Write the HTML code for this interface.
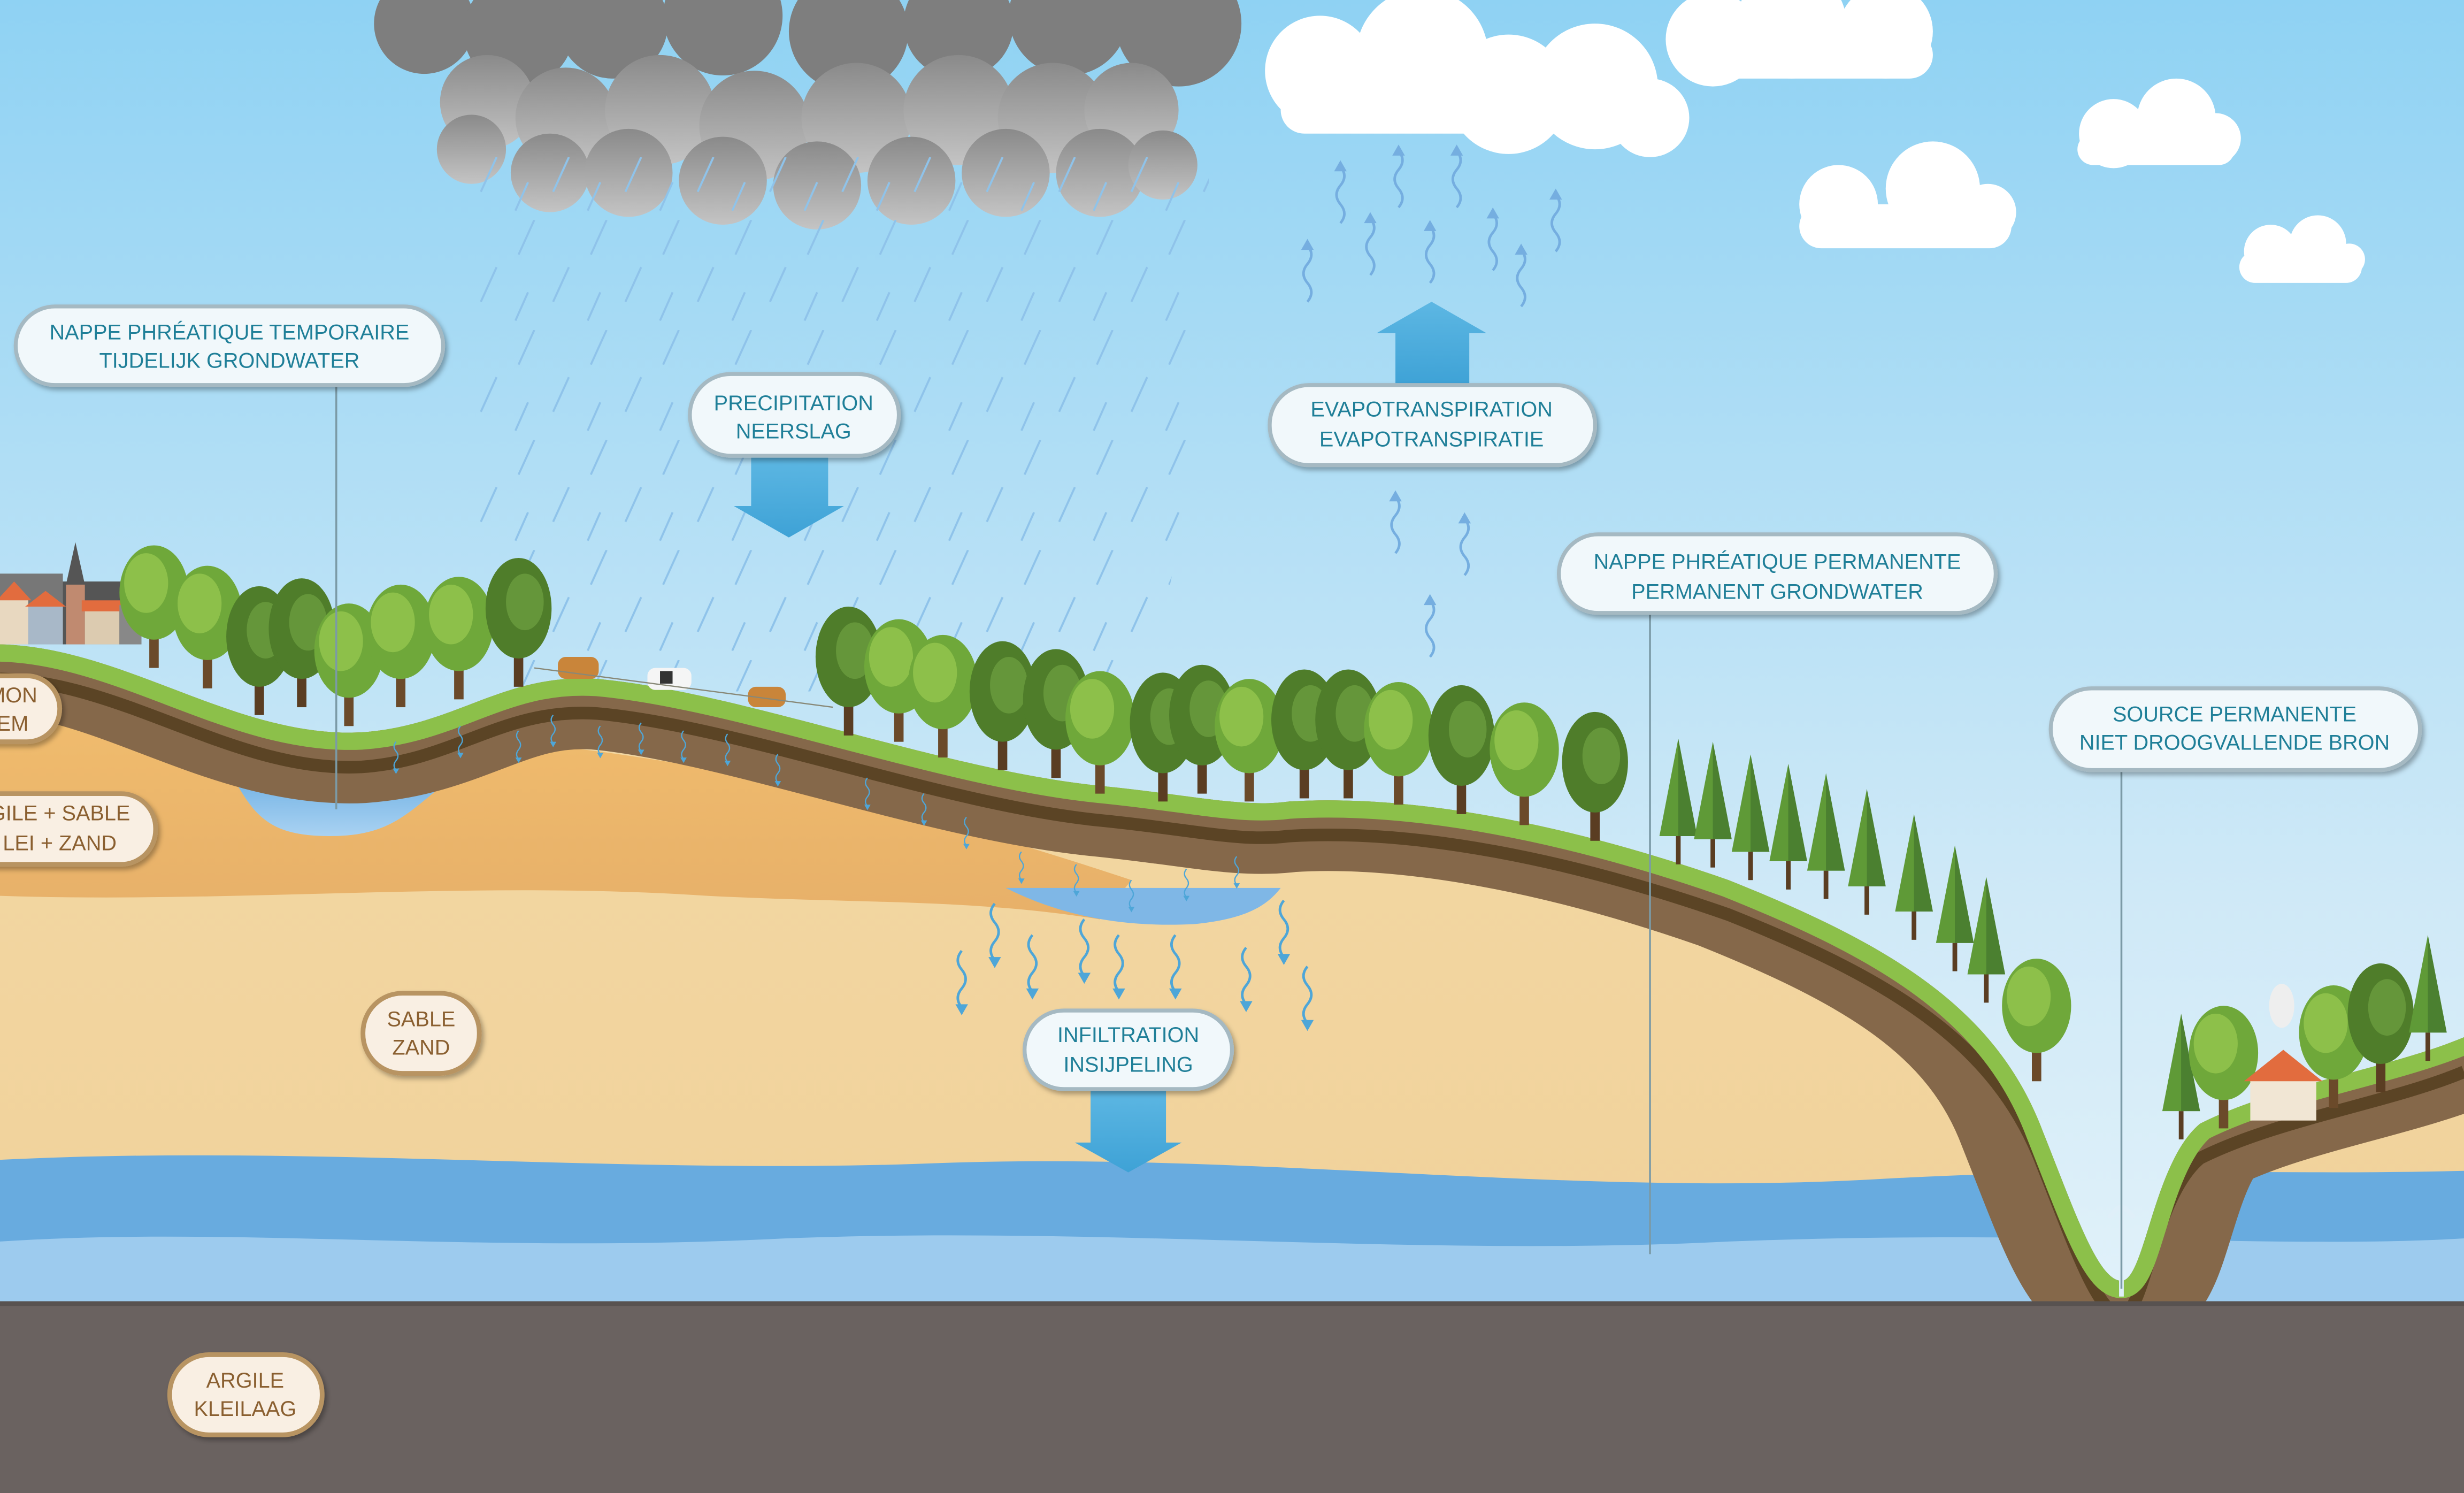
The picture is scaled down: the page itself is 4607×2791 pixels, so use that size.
<!DOCTYPE html>
<html><head><meta charset="utf-8"><style>
html,body{margin:0;padding:0;background:#fff}
svg{display:block}
text{font-family:"Liberation Sans",Arial,sans-serif;font-size:13.5px;text-anchor:middle}
.t{fill:#1f7f98}
.b{fill:#8a5f30}
</style></head><body>
<svg width="4607" height="2791" viewBox="0 0 1568 950" preserveAspectRatio="none" xmlns="http://www.w3.org/2000/svg" xmlns:xlink="http://www.w3.org/1999/xlink">
<defs>
<linearGradient id="sky" x1="0" y1="0" x2="0" y2="1"><stop offset="0" stop-color="#8fd2f3"/><stop offset="0.6" stop-color="#cfe9f7"/><stop offset="1" stop-color="#e9f5fb"/></linearGradient>
<linearGradient id="sand" x1="0" y1="0" x2="0" y2="1"><stop offset="0" stop-color="#f3d9a4"/><stop offset="1" stop-color="#f0cf98"/></linearGradient>
<linearGradient id="orng" x1="0" y1="0" x2="0" y2="1"><stop offset="0" stop-color="#f1bd6e"/><stop offset="1" stop-color="#e7b069"/></linearGradient>
<linearGradient id="pond" x1="0" y1="0" x2="0" y2="1"><stop offset="0" stop-color="#5ea6df"/><stop offset="1" stop-color="#a9d2f2"/></linearGradient>
<linearGradient id="storm" x1="0" y1="0" x2="0" y2="1"><stop offset="0" stop-color="#8a8a8a"/><stop offset="1" stop-color="#c4c4c4"/></linearGradient>
<linearGradient id="arr" x1="0" y1="0" x2="0" y2="1"><stop offset="0" stop-color="#5db7e3"/><stop offset="1" stop-color="#3ea2d6"/></linearGradient>
<clipPath id="ground"><path d="M0,410 C80,412 150,470 230,466 C290,462 320,428 380,432 C470,440 600,490 700,500 C760,506 790,514 820,510 C900,505 1000,525 1100,560 C1200,600 1270,640 1300,720 C1320,770 1335,815 1350,815 C1365,815 1370,740 1400,715 C1450,690 1520,680 1568,660 L1568,950 L0,950 Z"/></clipPath>
<clipPath id="rainclip"><path d="M300,100 L770,100 L760,300 L730,440 L300,440 Z"/></clipPath>
<pattern id="rain" width="46" height="70" patternUnits="userSpaceOnUse">
<line x1="18" y1="0" x2="8" y2="22" stroke="#8fc3ea" stroke-width="1.3"/>
<line x1="40" y1="30" x2="30" y2="52" stroke="#8fc3ea" stroke-width="1.3"/>
<line x1="14" y1="46" x2="6" y2="64" stroke="#8fc3ea" stroke-width="1.3"/>
</pattern>
<g id="squ"><path d="M0,4 q5,6 0,12 q-5,6 0,12 q5,6 0,12" fill="none" stroke="#75aee0" stroke-width="1.6"/><path d="M-4,7 L0,0 L4,7 Z" fill="#75aee0"/></g>
<g id="sqd"><path d="M0,0 q-5,6 0,12 q5,6 0,12 q-5,6 0,12" fill="none" stroke="#4ea6d8" stroke-width="1.6"/><path d="M-4,34 L0,41 L4,34 Z" fill="#4ea6d8"/></g>
<g id="tree"><rect x="-3" y="-34" width="6" height="34" fill="#6b4a2a"/><ellipse cx="0" cy="-48" rx="22" ry="30" fill="#6fa83a"/><ellipse cx="-5" cy="-54" rx="14" ry="19" fill="#8dc04a"/></g>
<g id="tree2"><rect x="-3" y="-34" width="6" height="34" fill="#5a3d22"/><ellipse cx="0" cy="-50" rx="21" ry="32" fill="#4f7d2a"/><ellipse cx="4" cy="-54" rx="12" ry="18" fill="#65963a"/></g>
<g id="pine"><rect x="-1.5" y="-18" width="3" height="18" fill="#5a3d22"/><path d="M0,-80 L-12,-18 L12,-18 Z" fill="#5f9a37"/><path d="M0,-80 L0,-18 L12,-18 Z" fill="#4b8030"/></g>
<filter id="sh" x="-10%" y="-20%" width="130%" height="150%"><feDropShadow dx="1.5" dy="2" stdDeviation="1.5" flood-color="#000" flood-opacity="0.3"/></filter>
</defs>

<rect width="1568" height="950" fill="url(#sky)"/>

<!-- storm cloud -->
<g>
<g fill="#7e7e7e">
<circle cx="270" cy="15" r="32"/><circle cx="330" cy="20" r="35"/><circle cx="390" cy="15" r="35"/><circle cx="460" cy="10" r="38"/><circle cx="540" cy="20" r="38"/><circle cx="610" cy="15" r="35"/><circle cx="680" cy="10" r="38"/><circle cx="750" cy="15" r="40"/>
</g>
<g fill="url(#storm)">
<circle cx="310" cy="65" r="30"/><circle cx="360" cy="75" r="32"/><circle cx="420" cy="70" r="35"/><circle cx="480" cy="80" r="35"/><circle cx="545" cy="75" r="35"/><circle cx="610" cy="70" r="35"/><circle cx="670" cy="75" r="35"/><circle cx="720" cy="70" r="30"/>
<circle cx="300" cy="95" r="22"/><circle cx="350" cy="110" r="25"/><circle cx="400" cy="110" r="28"/><circle cx="460" cy="115" r="28"/><circle cx="520" cy="118" r="28"/><circle cx="580" cy="115" r="28"/><circle cx="640" cy="110" r="28"/><circle cx="700" cy="110" r="28"/><circle cx="740" cy="105" r="22"/>
</g>
</g>
<!-- white clouds -->
<g fill="#fff">
<circle cx="840" cy="45" r="35"/><circle cx="905" cy="35" r="42"/><circle cx="960" cy="60" r="38"/><circle cx="1015" cy="55" r="40"/><circle cx="1050" cy="75" r="25"/><rect x="815" y="55" width="250" height="30" rx="15"/>
<circle cx="1090" cy="25" r="30"/><circle cx="1140" cy="15" r="35"/><circle cx="1200" cy="20" r="30"/><rect x="1065" y="20" width="165" height="30" rx="15"/>
<circle cx="1345" cy="85" r="22"/><circle cx="1385" cy="75" r="25"/><circle cx="1410" cy="88" r="16"/><rect x="1322" y="85" width="100" height="20" rx="10"/>
<circle cx="1170" cy="130" r="25"/><circle cx="1230" cy="120" r="30"/><circle cx="1265" cy="135" r="18"/><rect x="1145" y="130" width="135" height="28" rx="14"/>
<circle cx="1445" cy="160" r="17"/><circle cx="1475" cy="155" r="18"/><circle cx="1495" cy="165" r="10"/><rect x="1425" y="160" width="78" height="20" rx="10"/>
</g>

<!-- rain -->
<rect x="290" y="100" width="480" height="340" fill="url(#rain)" clip-path="url(#rainclip)"/>

<!-- ground layers -->
<g clip-path="url(#ground)">
<rect x="0" y="380" width="1568" height="570" fill="url(#sand)"/>
<path d="M0,440 L0,570 C150,575 300,560 450,570 C550,575 620,572 700,585 L720,560 C600,520 450,480 300,470 Z" fill="url(#orng)"/>
<path d="M140,480 C160,515 165,532 210,532 C255,532 262,512 300,486 Z" fill="url(#pond)"/>
<path d="M640,565 C680,585 720,590 760,588 C790,585 805,578 815,565 Z" fill="#7fb7e6"/>
<path d="M0,738 C200,728 400,748 600,740 C800,733 1000,762 1200,750 C1350,742 1450,748 1568,745 L1568,830 L0,830 Z" fill="#68abdf"/>
<path d="M0,790 C150,780 300,798 500,788 C700,780 900,800 1100,790 C1300,782 1450,795 1568,788 L1568,830 L0,830 Z" fill="#9dcbee"/>
<path d="M0,410 C80,412 150,470 230,466 C290,462 320,428 380,432 C470,440 600,490 700,500 C760,506 790,514 820,510 C900,505 1000,525 1100,560 C1200,600 1270,640 1300,720 C1320,770 1335,815 1350,815 C1365,815 1370,740 1400,715 C1450,690 1520,680 1568,660" fill="none" stroke="#85684a" stroke-width="110" transform="translate(0,-10)"/>
<path d="M0,410 C80,412 150,470 230,466 C290,462 320,428 380,432 C470,440 600,490 700,500 C760,506 790,514 820,510 C900,505 1000,525 1100,560 C1200,600 1270,640 1300,720 C1320,770 1335,815 1350,815 C1365,815 1370,740 1400,715 C1450,690 1520,680 1568,660" fill="none" stroke="#5b4425" stroke-width="8" transform="translate(0,22)"/>
<path d="M0,410 C80,412 150,470 230,466 C290,462 320,428 380,432 C470,440 600,490 700,500 C760,506 790,514 820,510 C900,505 1000,525 1100,560 C1200,600 1270,640 1300,720 C1320,770 1335,815 1350,815 C1365,815 1370,740 1400,715 C1450,690 1520,680 1568,660" fill="none" stroke="#8cc04a" stroke-width="22"/>
<rect x="0" y="828" width="1568" height="122" fill="#6a6260"/>
<rect x="0" y="828" width="1568" height="4" fill="#585250"/>
</g>
<rect x="0" y="828" width="1568" height="122" fill="#6a6260"/>
<rect x="0" y="828" width="1568" height="3" fill="#585250"/>

<!-- village -->
<g>
<rect x="40" y="370" width="50" height="40" fill="#555"/>
<rect x="0" y="365" width="40" height="45" fill="#777"/>
<path d="M42,372 L48,345 L54,372 Z" fill="#555"/><rect x="42" y="372" width="12" height="38" fill="#c08a70"/>
<rect x="0" y="380" width="18" height="30" fill="#e8d8c0"/><path d="M-2,382 L9,370 L20,382 Z" fill="#e26c3e"/>
<rect x="18" y="385" width="22" height="25" fill="#a8b8c8"/><path d="M16,386 L29,376 L42,386 Z" fill="#e26c3e"/>
<rect x="54" y="388" width="22" height="22" fill="#dccbb0"/><rect x="52" y="382" width="26" height="7" fill="#e26c3e"/>
<rect x="76" y="385" width="14" height="25" fill="#888"/>
</g>

<!-- trees -->
<g>
<use xlink:href="#tree" x="98" y="425"/><use xlink:href="#tree" x="132" y="438"/><use xlink:href="#tree2" x="165" y="455"/><use xlink:href="#tree2" x="192" y="450"/><use xlink:href="#tree" x="222" y="462"/><use xlink:href="#tree" x="255" y="450"/><use xlink:href="#tree" x="292" y="445"/><use xlink:href="#tree2" x="330" y="437"/>
<use xlink:href="#tree2" x="540" y="468"/><use xlink:href="#tree" x="572" y="472"/><use xlink:href="#tree" x="600" y="482"/><use xlink:href="#tree2" x="638" y="490"/><use xlink:href="#tree2" x="672" y="495"/><use xlink:href="#tree" x="700" y="505"/><use xlink:href="#tree2" x="740" y="510"/><use xlink:href="#tree2" x="765" y="505"/><use xlink:href="#tree" x="795" y="510"/><use xlink:href="#tree2" x="830" y="508"/><use xlink:href="#tree2" x="858" y="508"/><use xlink:href="#tree" x="890" y="512"/><use xlink:href="#tree2" x="930" y="518"/><use xlink:href="#tree" x="970" y="525"/><use xlink:href="#tree2" x="1015" y="535"/>
<use xlink:href="#pine" x="1068" y="550"/><use xlink:href="#pine" x="1090" y="552"/><use xlink:href="#pine" x="1114" y="560"/><use xlink:href="#pine" x="1138" y="566"/><use xlink:href="#pine" x="1162" y="572"/><use xlink:href="#pine" x="1188" y="582"/><use xlink:href="#pine" x="1218" y="598"/><use xlink:href="#pine" x="1244" y="618"/><use xlink:href="#pine" x="1264" y="638"/>
<use xlink:href="#tree" x="1296" y="688"/>
<use xlink:href="#pine" x="1388" y="725"/><use xlink:href="#tree" x="1415" y="718"/><use xlink:href="#tree" x="1485" y="705"/><use xlink:href="#tree2" x="1515" y="695"/><use xlink:href="#pine" x="1545" y="675"/>
</g>
<!-- house right -->
<rect x="1432" y="685" width="42" height="28" fill="#f1e6d4"/><path d="M1428,688 L1453,668 L1478,688 Z" fill="#e26c3e"/>
<ellipse cx="1452" cy="640" rx="8" ry="14" fill="#eee"/>
<!-- cows -->
<rect x="355" y="418" width="26" height="14" rx="5" fill="#c9853a"/><rect x="412" y="425" width="28" height="14" rx="5" fill="#f5f5f5"/><rect x="420" y="427" width="8" height="8" fill="#333"/><rect x="476" y="437" width="24" height="13" rx="5" fill="#c9853a"/>
<line x1="340" y1="425" x2="530" y2="450" stroke="#887" stroke-width="0.8"/>

<!-- water spring -->
<path d="M1350,825 L1350,770 M1342,775 q8,-10 8,-5 M1358,775 q-8,-10 -8,-5" stroke="#dfeff9" stroke-width="3" fill="none"/>

<!-- leader lines -->
<g stroke="#7b9aa6" stroke-width="1.2">
<line x1="214" y1="245" x2="214" y2="515"/><line x1="1050" y1="390" x2="1050" y2="798"/><line x1="1350" y1="490" x2="1350" y2="820"/>
</g>

<!-- big arrows -->
<path d="M478,290 L527,290 L527,322 L537,322 L502,342 L467,322 L478,322 Z" fill="url(#arr)"/>
<path d="M888,245 L935,245 L935,212 L946,212 L911,192 L876,212 L888,212 Z" fill="url(#arr)"/>
<path d="M694,693 L742,693 L742,727 L752,727 L718,746 L684,727 L694,727 Z" fill="url(#arr)"/>

<!-- squiggles up -->
<use xlink:href="#squ" x="832" y="152"/><use xlink:href="#squ" x="853" y="102"/><use xlink:href="#squ" x="872" y="135"/><use xlink:href="#squ" x="890" y="92"/><use xlink:href="#squ" x="910" y="140"/><use xlink:href="#squ" x="927" y="92"/><use xlink:href="#squ" x="950" y="132"/><use xlink:href="#squ" x="968" y="155"/><use xlink:href="#squ" x="990" y="120"/>
<use xlink:href="#squ" x="888" y="312"/><use xlink:href="#squ" x="932" y="326"/><use xlink:href="#squ" x="910" y="378"/>
<!-- squiggles down -->
<use xlink:href="#sqd" x="612" y="605"/><use xlink:href="#sqd" x="633" y="575"/><use xlink:href="#sqd" x="657" y="595"/><use xlink:href="#sqd" x="690" y="585"/><use xlink:href="#sqd" x="712" y="595"/><use xlink:href="#sqd" x="748" y="595"/><use xlink:href="#sqd" x="793" y="603"/><use xlink:href="#sqd" x="817" y="573"/><use xlink:href="#sqd" x="832" y="615"/>
<use xlink:href="#sqd" transform="translate(252,472) scale(0.5)"/><use xlink:href="#sqd" transform="translate(293,462) scale(0.5)"/><use xlink:href="#sqd" transform="translate(330,465) scale(0.5)"/><use xlink:href="#sqd" transform="translate(352,455) scale(0.5)"/><use xlink:href="#sqd" transform="translate(382,462) scale(0.5)"/><use xlink:href="#sqd" transform="translate(408,460) scale(0.5)"/><use xlink:href="#sqd" transform="translate(435,465) scale(0.5)"/><use xlink:href="#sqd" transform="translate(463,467) scale(0.5)"/><use xlink:href="#sqd" transform="translate(495,480) scale(0.5)"/><use xlink:href="#sqd" transform="translate(552,495) scale(0.5)"/><use xlink:href="#sqd" transform="translate(588,505) scale(0.5)"/><use xlink:href="#sqd" transform="translate(615,520) scale(0.5)"/><use xlink:href="#sqd" transform="translate(650,542) scale(0.5)"/><use xlink:href="#sqd" transform="translate(685,550) scale(0.5)"/><use xlink:href="#sqd" transform="translate(720,560) scale(0.5)"/><use xlink:href="#sqd" transform="translate(755,553) scale(0.5)"/><use xlink:href="#sqd" transform="translate(787,545) scale(0.5)"/>

<!-- labels teal -->
<g filter="url(#sh)" fill="#f1f8fb" stroke="#a5b9c2" stroke-width="2.5">
<rect x="10" y="195" width="272" height="50" rx="25"/>
<rect x="439" y="238" width="133" height="52" rx="26"/>
<rect x="808" y="245" width="207" height="51" rx="25"/>
<rect x="992" y="340" width="278" height="50" rx="25"/>
<rect x="1305" y="438" width="235" height="52" rx="26"/>
<rect x="652" y="643" width="132" height="50" rx="25"/>
</g>
<text class="t" x="146" y="216">NAPPE PHRÉATIQUE TEMPORAIRE</text><text class="t" x="146" y="234">TIJDELIJK GRONDWATER</text>
<text class="t" x="505" y="261">PRECIPITATION</text><text class="t" x="505" y="279">NEERSLAG</text>
<text class="t" x="911" y="265">EVAPOTRANSPIRATION</text><text class="t" x="911" y="284">EVAPOTRANSPIRATIE</text>
<text class="t" x="1131" y="362">NAPPE PHRÉATIQUE PERMANENTE</text><text class="t" x="1131" y="381">PERMANENT GRONDWATER</text>
<text class="t" x="1422" y="459">SOURCE PERMANENTE</text><text class="t" x="1422" y="477">NIET DROOGVALLENDE BRON</text>
<text class="t" x="718" y="663">INFILTRATION</text><text class="t" x="718" y="682">INSIJPELING</text>

<!-- labels brown -->
<g filter="url(#sh)" fill="#f9efe3" stroke="#b89462" stroke-width="3">
<rect x="-40" y="430" width="78" height="42" rx="21"/>
<rect x="-60" y="505" width="159" height="45" rx="22"/>
<rect x="231" y="632" width="74" height="51" rx="25"/>
<rect x="108" y="862" width="97" height="51" rx="25"/>
</g>
<text class="b" x="8" y="447">MON</text><text class="b" x="8" y="465">EM</text>
<text class="b" x="38" y="522">GILE + SABLE</text><text class="b" x="38" y="541">LEI + ZAND</text>
<text class="b" x="268" y="653">SABLE</text><text class="b" x="268" y="671">ZAND</text>
<text class="b" x="156" y="883">ARGILE</text><text class="b" x="156" y="901">KLEILAAG</text>
</svg>
</body></html>
